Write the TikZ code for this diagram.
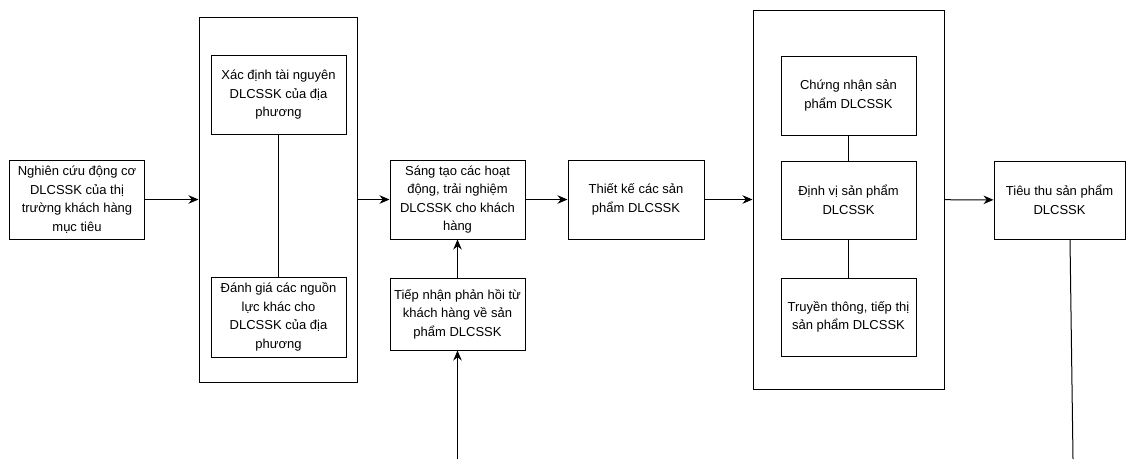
\documentclass[tikz,border=0pt]{standalone}
\usepackage{fontspec}
\setmainfont{Liberation Sans}
\usetikzlibrary{arrows.meta}

\begin{document}
\begin{tikzpicture}[x=1pt, y=-1pt, line width=1pt,
    box/.style={draw, align=center, minimum width=135pt, minimum height=79pt,
      inner sep=2pt, font=\fontsize{13}{18.5}\selectfont},
    group/.style={draw},
    arr/.style={-{Stealth[length=10pt, width=8.5pt]}}]
  \useasboundingbox (0,0) rectangle (1126,459);

  % left part
  \node[box] (mt) at (77,199.5) {Nghiên cứu động cơ\\DLCSSK của thị\\trường khách hàng\\mục tiêu};
  \node[group, minimum width=158pt, minimum height=365pt] (g1) at (278,199.5) {};
  \node[box] (tn) at (278.5,95) {Xác định tài nguyên\\DLCSSK của địa\\phương};
  \node[box, minimum height=80pt] (nl) at (278.5,317) {Đánh giá các nguồn\\lực khác cho\\DLCSSK của địa\\phương};

  % middle
  \node[box] (st) at (457.5,199.5) {Sáng tạo các hoạt\\động, trải nghiệm\\DLCSSK cho khách\\hàng};
  \node[box, minimum height=72pt] (ph) at (457.5,314) {Tiếp nhận phản hồi từ\\khách hàng về sản\\phẩm DLCSSK};
  \node[box, minimum width=136pt] (tk) at (636,199.5) {Thiết kế các sản\\phẩm DLCSSK};

  % right part
  \node[group, minimum width=191pt, minimum height=379pt] (g2) at (848.5,199.5) {};
  \node[box] (cn) at (848.5,95.5) {Chứng nhận sản\\phẩm DLCSSK};
  \node[box, minimum height=78pt] (dv) at (848.5,200) {Định vị sản phẩm\\DLCSSK};
  \node[box, minimum height=78pt] (tt) at (848.5,317) {Truyền thông, tiếp thị\\sản phẩm DLCSSK};
  \node[box, minimum width=131pt, minimum height=78pt] (tieu) at (1059.5,200) {Tiêu thu sản phẩm\\DLCSSK};

  \coordinate (in) at (457.5,459);
  \coordinate (out) at (1073,459);

  \draw[arr] (mt) -- (g1);
  \draw (tn) -- (nl);
  \draw[arr] (g1) -- (st);
  \draw[arr] (ph) -- (st);
  \draw[arr] (in) -- (ph);
  \draw[arr] (st) -- (tk);
  \draw[arr] (tk) -- (g2);
  \draw (cn) -- (dv);
  \draw (dv) -- (tt);
  \draw[arr] (g2) -- (tieu);
  \draw ([xshift=10.5pt]tieu.south) -- (out);
\end{tikzpicture}
\end{document}
